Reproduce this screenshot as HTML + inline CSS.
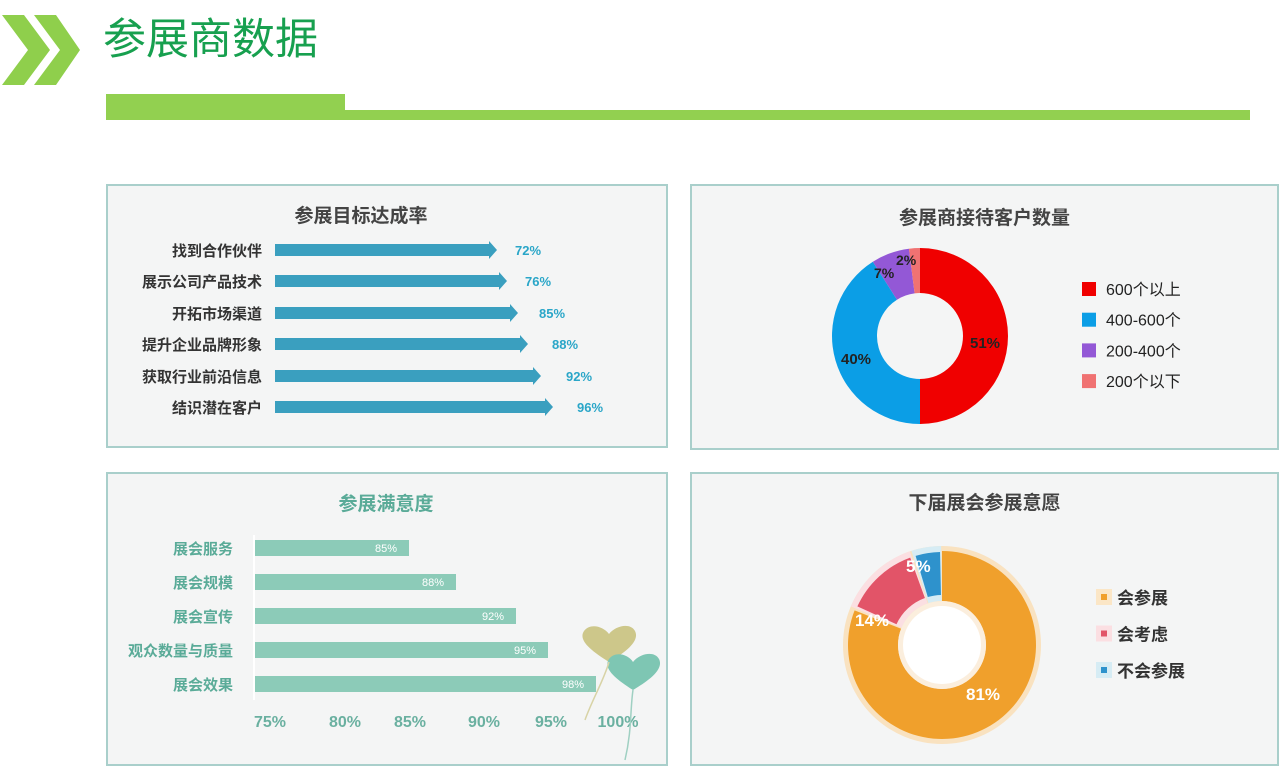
<!DOCTYPE html>
<html><head><meta charset="utf-8">
<style>
body{margin:0;width:1280px;height:766px;background:#fff;position:relative;overflow:hidden;font-family:"Liberation Sans","Noto Sans CJK SC",sans-serif;}
.a{position:absolute;white-space:nowrap}
.panel{position:absolute;border:2px solid #a9cfcb;background:#f4f5f5;box-sizing:border-box}
.t{font-weight:bold;font-size:19px;color:#444;text-align:center}
</style></head><body>
<svg class="a" style="left:0;top:0" width="1280" height="130">
<polygon points="2,15 24,15 50,50 24,85 2,85 28,50" fill="#8fcf4c"/>
<polygon points="34,15 56,15 80,50 56,85 34,85 60,50" fill="#8fcf4c"/>
<rect x="106" y="94" width="239" height="26" fill="#92d050"/>
<rect x="345" y="110" width="905" height="10" fill="#92d050"/>
</svg>
<div class="a" style="left:103px;top:5px;font-size:43px;color:#17a04f;font-family:'Noto Sans CJK SC',sans-serif;">参展商数据</div>

<div class="panel" style="left:106px;top:184px;width:562px;height:264px"></div>
<div class="panel" style="left:690px;top:184px;width:589px;height:266px"></div>
<div class="panel" style="left:106px;top:472px;width:562px;height:294px"></div>
<div class="panel" style="left:690px;top:472px;width:589px;height:294px"></div>

<div class="a t" style="left:106px;width:510px;top:201px">参展目标达成率</div>
<div class="a t" style="left:690px;width:589px;top:203px">参展商接待客户数量</div>
<div class="a t" style="left:106px;width:560px;top:489px;color:#5aab98">参展满意度</div>
<div class="a t" style="left:690px;width:589px;top:488px">下届展会参展意愿</div>

<svg class="a" style="left:0;top:0" width="1280" height="766" id="s"></svg>
<script>
var s=document.getElementById('s'),h='';
function T(x,y,t,sz,c,w,anc){h+='<text x="'+x+'" y="'+y+'" font-size="'+sz+'" fill="'+c+'" font-weight="'+(w||'bold')+'" text-anchor="'+(anc||'start')+'" font-family="Liberation Sans,Noto Sans CJK SC,sans-serif">'+t+'</text>';}
var L1=['找到合作伙伴','展示公司产品技术','开拓市场渠道','提升企业品牌形象','获取行业前沿信息','结识潜在客户'];
var E1=[497,507,518,528,541,553],P1=['72%','76%','85%','88%','92%','96%'],X1=[515,525,539,552,566,577];
var Y1=[250,281,313,344,376,407];
for(var i=0;i<6;i++){var y=Y1[i];
h+='<polygon points="275,'+(y-6)+' '+(E1[i]-8)+','+(y-6)+' '+(E1[i]-8)+','+(y-9)+' '+E1[i]+','+y+' '+(E1[i]-8)+','+(y+9)+' '+(E1[i]-8)+','+(y+6)+' 275,'+(y+6)+'" fill="#3a9fbf"/>';
T(262,y+6,L1[i],15,'#333','bold','end');T(X1[i],y+5,P1[i],13,'#2aa6c8');}
function arc(cx,cy,r1,r2,a0,a1,c){var f=function(r,a){a=(a-90)*Math.PI/180;return (cx+r*Math.cos(a)).toFixed(2)+','+(cy+r*Math.sin(a)).toFixed(2)};var lg=(a1-a0)>180?1:0;
h+='<path d="M'+f(r2,a0)+' A'+r2+','+r2+' 0 '+lg+' 1 '+f(r2,a1)+' L'+f(r1,a1)+' A'+r1+','+r1+' 0 '+lg+' 0 '+f(r1,a0)+'Z" fill="'+c+'"/>';}
var cx=920,cy=336;
arc(cx,cy,43,88,0,180,'#f00000');arc(cx,cy,43,88,180,327.6,'#0b9ee6');arc(cx,cy,43,88,327.6,352.8,'#9358d6');arc(cx,cy,43,88,352.8,360,'#f07272');
T(970,348,'51%',15,'#222');T(841,364,'40%',15,'#222');T(874,278,'7%',14,'#222');T(896,265,'2%',14,'#222');
var C2=['#f00000','#0b9ee6','#9358d6','#f07272'],L2=['600个以上','400-600个','200-400个','200个以下'];
for(i=0;i<4;i++){var y=289+i*30.7;h+='<rect x="1082" y="'+(y-7)+'" width="14" height="14" fill="'+C2[i]+'"/>';T(1106,y+6,L2[i],16,'#222','normal');}
h+='<line x1="254" y1="535" x2="254" y2="700" stroke="#fff" stroke-width="2"/>';
var L3=['展会服务','展会规模','展会宣传','观众数量与质量','展会效果'],E3=[409,456,516,548,596],P3=['85%','88%','92%','95%','98%'];
for(i=0;i<5;i++){var y=548+i*34;h+='<rect x="255" y="'+(y-8)+'" width="'+(E3[i]-255)+'" height="16" fill="#8ccbb8"/>';
T(233,y+6,L3[i],15,'#5aab98','bold','end');T(E3[i]-12,y+4,P3[i],11,'#fff','normal','end');}
var TX=[270,345,410,484,551,618],TL=['75%','80%','85%','90%','95%','100%'];
for(i=0;i<6;i++)T(TX[i],727,TL[i],16,'#6ab0a0','bold','middle');
h+='<path d="M609,662 C590,650 578,640 584,631 C590,623 603,626 609,634 C615,626 630,622 635,631 C640,641 626,652 609,662Z" fill="#cdc78a"/>';
h+='<path d="M633,690 C614,678 603,668 609,659 C615,651 628,654 633,662 C639,654 654,650 659,659 C664,669 650,680 633,690Z" fill="#7ec6b3"/>';
h+='<path d="M633,690 C630,710 632,730 625,760" stroke="#9fd0c2" fill="none" stroke-width="1.5"/><path d="M609,662 C604,680 592,700 585,720" stroke="#d8d3a6" fill="none" stroke-width="1.5"/>';
cx=942;cy=645;
h+='<circle cx="'+cx+'" cy="'+cy+'" r="99" fill="#f9e2c0"/>';
arc(cx,cy,44,94,0,291.6,'#f0a02c');
arc(cx,cy,44,99,293,341,'#fbdfe2');arc(cx,cy,50,93,294.5,340,'#e25468');
arc(cx,cy,44,99,342,359.5,'#d6ecf4');arc(cx,cy,50,93,343.5,358.8,'#2e92cc');
h+='<circle cx="'+cx+'" cy="'+cy+'" r="44" fill="#fbeedd"/><circle cx="'+cx+'" cy="'+cy+'" r="39" fill="#fff"/>';
T(966,700,'81%',17,'#fff','bold');T(855,626,'14%',17,'#fff','bold');T(906,572,'5%',17,'#fff','bold');
var C4=['#f0a02c','#e25468','#2e92cc'],B4=['#fbe6c6','#fbdfe2','#d6ecf4'],L4=['会参展','会考虑','不会参展'];
for(i=0;i<3;i++){var y=597+i*36.5;h+='<rect x="1096" y="'+(y-8)+'" width="16" height="16" fill="'+B4[i]+'"/><rect x="1101" y="'+(y-3)+'" width="6" height="6" fill="'+C4[i]+'"/>';T(1117,y+7,L4[i],17,'#333','bold');}
s.innerHTML=h;
</script>
</body></html>
